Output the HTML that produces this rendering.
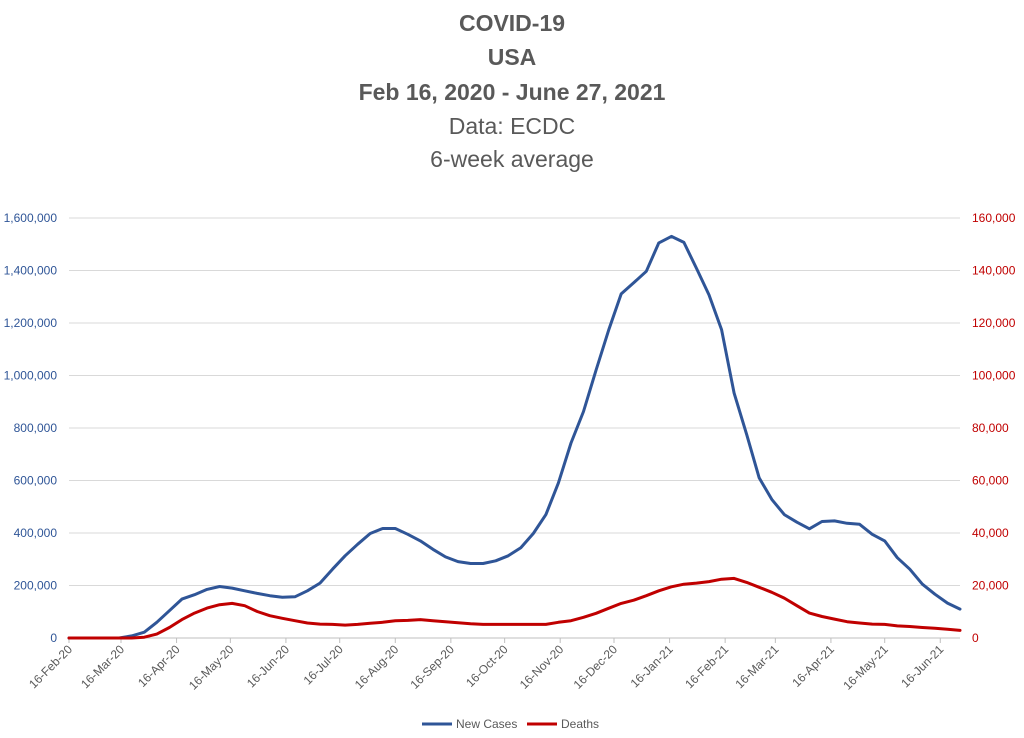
<!DOCTYPE html>
<html><head><meta charset="utf-8"><style>
body{margin:0;background:#fff;}
svg{display:block;font-family:"Liberation Sans",Calibri,sans-serif;}
</style></head><body>
<svg id="chart" width="1024" height="738">
<g text-anchor="middle" fill="#595959">
<text x="512" y="31" font-size="23" font-weight="bold">COVID-19</text>
<text x="512" y="65" font-size="23" font-weight="bold">USA</text>
<text x="512" y="100" font-size="23" font-weight="bold">Feb 16, 2020 - June 27, 2021</text>
<text x="512" y="134" font-size="23">Data: ECDC</text>
<text x="512" y="167" font-size="23">6-week average</text>
</g>
<g id="grid"></g><g id="axes"></g><g id="series"></g>
<g font-size="12" fill="#595959">
<line x1="422" y1="724" x2="452" y2="724" stroke="#2F5597" stroke-width="3"/>
<text x="456" y="728">New Cases</text>
<line x1="527" y1="724" x2="557" y2="724" stroke="#C00000" stroke-width="3"/>
<text x="561" y="728">Deaths</text>
</g>
</svg>
<script>
const cases=[0,0,0,0,0,8,22,60,104,148,165,185,196,190,180,170,161,155,157,180,209,262,313,357,398,417,417,395,370,338,309,291,284,284,294,313,344,398,470,591,743,863,1021,1172,1311,1353,1397,1505,1530,1507,1408,1307,1174,933,775,610,528,470,441,416,444,446,437,433,395,370,306,262,205,167,133,110];
const deaths=[0,0,0,0,0,0,0.3,1.5,4,7,9.5,11.4,12.7,13.2,12.3,10.1,8.5,7.5,6.6,5.7,5.3,5.2,4.9,5.2,5.6,6,6.6,6.7,7,6.6,6.2,5.8,5.4,5.2,5.2,5.2,5.2,5.2,5.2,6,6.6,7.9,9.4,11.3,13.2,14.4,16.1,18,19.5,20.5,20.9,21.5,22.4,22.7,21.2,19.3,17.4,15.2,12.3,9.5,8.2,7.2,6.2,5.7,5.3,5.2,4.6,4.4,4,3.7,3.3,2.9];
const leftTicks=["0","200,000","400,000","600,000","800,000","1,000,000","1,200,000","1,400,000","1,600,000"];
const rightTicks=["0","20,000","40,000","60,000","80,000","100,000","120,000","140,000","160,000"];
const monthLabels=["16-Feb-20","16-Mar-20","16-Apr-20","16-May-20","16-Jun-20","16-Jul-20","16-Aug-20","16-Sep-20","16-Oct-20","16-Nov-20","16-Dec-20","16-Jan-21","16-Feb-21","16-Mar-21","16-Apr-21","16-May-21","16-Jun-21"];
const monthDays=[0,29,60,90,121,151,182,213,243,274,304,335,366,394,425,455,486];
const NS="http://www.w3.org/2000/svg";
const X0=69,X1=960,Y0=638,Y1=218,TOTAL_DAYS=497;
const xDay=d=>X0+d*(X1-X0)/TOTAL_DAYS;
const xWeek=i=>xDay(i*7);
const yL=v=>Y0-v/1600*(Y0-Y1);
const yR=v=>Y0-v/160*(Y0-Y1);
function mk(tag,attrs,parent){const e=document.createElementNS(NS,tag);for(const k in attrs)e.setAttribute(k,attrs[k]);parent.appendChild(e);return e;}
const grid=document.getElementById('grid'),axes=document.getElementById('axes'),series=document.getElementById('series');
leftTicks.forEach((t,i)=>{
  const y=Y0-i*(Y0-Y1)/(leftTicks.length-1);
  const ln=mk('line',{x1:X0,x2:X1,y1:y,y2:y,stroke:i===0?'#BFBFBF':'#D9D9D9','stroke-width':1},grid);
  
  
  const a=mk('text',{x:57,y:y+4,'text-anchor':'end','font-size':12,fill:'#2F5597'},axes);a.textContent=t;
  
  
  const b=mk('text',{x:972,y:y+4,'font-size':12,fill:'#C00000'},axes);b.textContent=rightTicks[i];
  
  
});
monthLabels.forEach((m,i)=>{
  const x=xDay(monthDays[i]);
  const tk=mk('line',{x1:x,x2:x,y1:Y0,y2:Y0+5,stroke:'#BFBFBF'},axes);
  
  
  const t=mk('text',{x:x+4,y:Y0+12,'text-anchor':'end','font-size':12,fill:'#595959',transform:`rotate(-45 ${x+4} ${Y0+12})`},axes);
  t.textContent=m;
  
  
});
function line(data,yf,color,name){
  const d=data.map((v,i)=>(i?'L':'M')+xWeek(i).toFixed(1)+' '+yf(v).toFixed(1)).join(' ');
  const p=mk('path',{d:d,fill:'none',stroke:color,'stroke-width':3,'stroke-linejoin':'round','stroke-linecap':'round'},series);
  
  
}
line(cases,yL,'#2F5597','new-cases-line');
line(deaths,yR,'#C00000','deaths-line');
</script>
</body></html>
